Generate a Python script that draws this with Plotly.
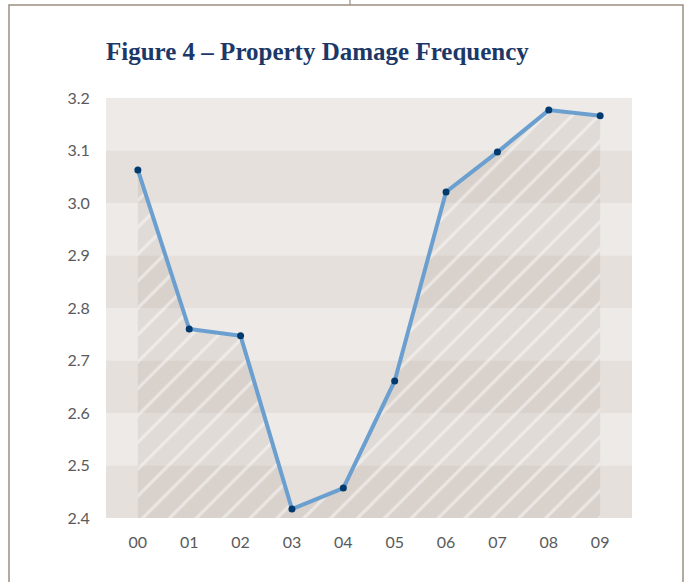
import plotly.graph_objects as go

years = ["00", "01", "02", "03", "04", "05", "06", "07", "08", "09"]
frequency = [3.063, 2.760, 2.747, 2.417, 2.457, 2.661, 3.021, 3.097, 3.177, 3.166]
y_ticks = [2.4, 2.5, 2.6, 2.7, 2.8, 2.9, 3.0, 3.1, 3.2]
title_text = "Figure 4 – Property Damage Frequency"

W, H = 686, 582
ML, MR, MT, MB = 106, 54, 98, 64
PW, PH = W - ML - MR, H - MT - MB

def px_x(p):
    return (p - ML) / PW

def px_y(p):
    return 1 + (MT - p) / PH

fig = go.Figure()

shapes = []
for i in range(len(y_ticks) - 1):
    lo, hi = y_ticks[i], y_ticks[i + 1]
    color = "#e5e0dc" if i % 2 == 0 else "#edeae7"
    shapes.append(dict(type="rect", xref="paper", yref="y", x0=0, x1=1, y0=lo, y1=hi,
                       fillcolor=color, line=dict(width=0), layer="below"))

shapes.append(dict(type="rect", xref="paper", yref="paper",
                   x0=px_x(9), x1=px_x(683), y0=px_y(5), y1=px_y(600),
                   line=dict(color="#9c8f80", width=1.5), fillcolor="rgba(0,0,0,0)", layer="below"))
shapes.append(dict(type="line", xref="paper", yref="paper",
                   x0=px_x(350), x1=px_x(350), y0=px_y(0), y1=px_y(5),
                   line=dict(color="#9c8f80", width=1.2)))

fig.add_trace(go.Scatter(
    x=years, y=frequency, mode="lines+markers",
    fill="tozeroy",
    fillcolor="rgba(130,105,90,0.12)",
    fillpattern=dict(shape="/", fgcolor="rgba(255,255,255,0.45)", bgcolor="rgba(130,105,90,0.12)",
                     size=19, solidity=0.16, fillmode="replace"),
    line=dict(color="#6a9fcf", width=4),
    marker=dict(color="#003a6e", size=7),
    hoverinfo="skip",
))

fig.update_layout(
    width=W, height=H,
    margin=dict(l=ML, r=MR, t=MT, b=MB),
    paper_bgcolor="white", plot_bgcolor="#edeae7",
    showlegend=False,
    shapes=shapes,
    annotations=[dict(text="<b>" + title_text + "</b>", xref="paper", yref="paper",
                      x=px_x(104), y=px_y(52), xanchor="left", yanchor="middle",
                      showarrow=False,
                      font=dict(family="Liberation Serif", size=25, color="#1b3868"))],
    xaxis=dict(type="category", range=[-0.62, 9.62], showgrid=False, zeroline=False,
               showline=False, ticks="outside", ticklen=10, tickcolor="rgba(0,0,0,0)",
               tickfont=dict(family="Lato", size=16, color="#5a5a5a")),
    yaxis=dict(range=[2.4, 3.2], tickvals=y_ticks, ticktext=[f"{v:.1f}" for v in y_ticks],
               showgrid=False, zeroline=False, showline=False,
               ticks="outside", ticklen=12, tickcolor="rgba(0,0,0,0)",
               tickfont=dict(family="Lato", size=16, color="#5a5a5a")),
)

fig.write_html("out.html", config={"displayModeBar": False},
               post_script="document.body.style.margin='0';document.body.style.overflow='hidden';")
